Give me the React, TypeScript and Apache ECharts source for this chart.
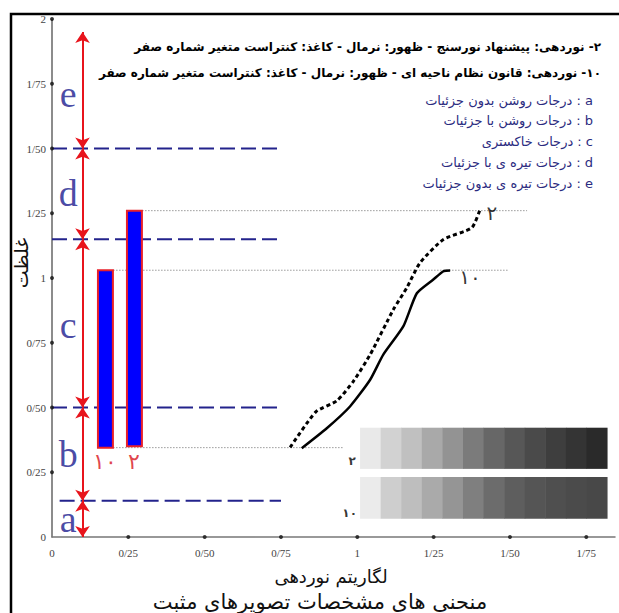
import React, { useEffect, useRef } from "react";
import * as echarts from "echarts";

// ---- axis ticks ----
const xTicks = [0, 0.25, 0.5, 0.75, 1, 1.25, 1.5, 1.75];
const xTickLabels = ["0", "0/25", "0/50", "0/75", "1", "1/25", "1/50", "1/75"];
const yTicks = [0, 0.25, 0.5, 0.75, 1, 1.25, 1.5, 1.75, 2];
const yTickLabels = ["0", "0/25", "0/50", "0/75", "1", "1/25", "1/50", "1/75", "2"];

// ---- zones (a..e) ----
const zoneBounds = [0, 0.14, 0.5, 1.15, 1.5, 1.95];
const zoneLetters = ["a", "b", "c", "d", "e"];
const zoneLetterY = [0.07, 0.32, 0.82, 1.33, 1.71];
const zoneLetterX = 0.053;
const arrowX = 0.1;
const dashedLevels = [0.14, 0.5, 1.15, 1.5];
const dashedStart = [0.025, 0, 0, 0];
const dashedEnd = [0.75, 0.75, 0.75, 0.75];

// ---- bars ----
const barNames = ["۱۰", "۲"];
const barX = [0.175, 0.27];
const barLow = [0.345, 0.35];
const barHigh = [1.03, 1.26];
const barLabelY = [0.29, 0.29];

// ---- reference dotted lines ----
const refY = [1.26, 1.03, 0.345];
const refStart = [0.295, 0.2, 0.2];
const refEnd = [1.556, 1.497, 0.953];

// ---- curves ----
const curve2 = [
  [0.78, 0.346], [0.864, 0.483], [0.933, 0.526], [0.987, 0.601], [1.042, 0.704],
  [1.118, 0.878], [1.162, 0.962], [1.205, 1.058], [1.282, 1.149], [1.375, 1.194], [1.402, 1.265],
];
const curve10 = [
  [0.818, 0.343], [0.9, 0.42], [0.976, 0.504], [1.042, 0.607], [1.085, 0.704],
  [1.151, 0.814], [1.195, 0.941], [1.249, 0.994], [1.282, 1.026], [1.304, 1.029],
];
const curveLabels = ["۲", "۱۰"];
const curveLabelPos = [[1.441, 1.251], [1.369, 1.004]];

// ---- grey step strips ----
const strip2Grays = ["#e9e9e9", "#d2d2d2", "#c0c0c0", "#a9a9a9", "#939393", "#7b7b7b", "#676767", "#575757", "#4a4a4a", "#3e3e3e", "#343434", "#2a2a2a"];
const strip10Grays = ["#ebebeb", "#cecece", "#bebebe", "#aaaaaa", "#959595", "#7f7f7f", "#6c6c6c", "#5e5e5e", "#555555", "#4f4f4f", "#4b4b4b", "#484848"];
const stripXRange = [1.009, 1.818];
const strip2YRange = [0.263, 0.422];
const strip10YRange = [0.07, 0.232];
const stripLabels = ["۲", "۱۰"];
const stripLabelPos = [[0.983, 0.293], [0.975, 0.093]];

// ---- texts ----
const headLines = [
  "۲- نوردهی: پیشنهاد نورسنج - ظهور: نرمال - کاغذ: کنتراست متغیر شماره صفر",
  "۱۰- نوردهی: قانون نظام ناحیه ای - ظهور: نرمال - کاغذ: کنتراست متغیر شماره صفر",
];
const legendLines = [
  "a : درجات روشن بدون جزئیات",
  "b : درجات روشن با جزئیات",
  "c : درجات خاکستری",
  "d : درجات تیره ی با جزئیات",
  "e : درجات تیره ی بدون جزئیات",
];
const xName = "لگاریتم نوردهی";
const yName = "غلظت";
const titleText = "منحنی های مشخصات تصویرهای مثبت";

const FA = "'DejaVu Sans', sans-serif";
const SERIF = "'Liberation Serif', 'DejaVu Serif', serif";
const RLE = "\u202B";
const PDF = "\u202C";

function tickLabel(v: number, ticks: number[], labels: string[]) {
  const i = ticks.findIndex((t) => Math.abs(t - v) < 1e-6);
  return i >= 0 ? labels[i] : "";
}

function stripCells(grays: string[], yr: number[]) {
  const n = grays.length;
  const w = (stripXRange[1] - stripXRange[0]) / n;
  return grays.map((g, i) => [stripXRange[0] + i * w, stripXRange[0] + (i + 1) * w, yr[0], yr[1]]);
}

export default function App() {
  const ref = useRef<HTMLDivElement>(null);
  useEffect(() => {
    if (!ref.current) return;
    const chart = echarts.init(ref.current, null, { renderer: "svg" });
    const series: any[] = [];

    dashedLevels.forEach((lv, i) => {
      series.push({
        type: "line",
        data: [[dashedStart[i], lv], [dashedEnd[i], lv]],
        symbol: "none",
        lineStyle: { color: "#23238c", width: 2, type: [15, 6] },
        z: 3,
      });
    });

    series.push({
      type: "lines",
      coordinateSystem: "cartesian2d",
      symbol: ["arrow", "arrow"],
      symbolSize: 11,
      lineStyle: { color: "#e8141c", width: 2, opacity: 1 },
      data: zoneLetters.map((_, i) => ({
        coords: [[arrowX, zoneBounds[i]], [arrowX, zoneBounds[i + 1]]],
      })),
      z: 4,
    });

    series.push({
      type: "scatter",
      symbolSize: 0,
      data: zoneLetters.map((l, i) => ({ name: l, value: [zoneLetterX, zoneLetterY[i]] })),
      label: {
        show: true,
        position: "inside",
        formatter: "{b}",
        color: "#1a1a8e",
        fontFamily: SERIF,
        fontSize: 38,
      },
      z: 5,
    });

    refY.forEach((y, i) => {
      series.push({
        type: "line",
        data: [[refStart[i], y], [refEnd[i], y]],
        symbol: "none",
        lineStyle: { color: "#9a9a9a", width: 1, type: [1.5, 1.5] },
        z: 2,
      });
    });

    series.push({
      type: "custom",
      data: barX.map((x, i) => [x, barLow[i], barHigh[i]]),
      renderItem: (params: any, api: any) => {
        const x = api.value(0);
        const p0 = api.coord([x - 0.0245, api.value(2)]);
        const p1 = api.coord([x + 0.0245, api.value(1)]);
        return {
          type: "rect",
          shape: { x: p0[0], y: p0[1], width: p1[0] - p0[0], height: p1[1] - p0[1] },
          style: { fill: "#0000ff", stroke: "#e8202a", lineWidth: 2 },
        };
      },
      z: 4,
    });

    series.push({
      type: "scatter",
      symbolSize: 0,
      data: barNames.map((n, i) => ({ name: n, value: [barX[i], barLabelY[i]] })),
      label: { show: true, position: "inside", formatter: "{b}", color: "#d8141c", fontFamily: SERIF, fontSize: 22 },
      z: 5,
    });

    const stripRender = (grays: string[]) => (params: any, api: any) => {
      const p0 = api.coord([api.value(0), api.value(3)]);
      const p1 = api.coord([api.value(1), api.value(2)]);
      return {
        type: "rect",
        shape: { x: p0[0], y: p0[1], width: p1[0] - p0[0] + 0.5, height: p1[1] - p0[1] },
        style: { fill: grays[params.dataIndex] },
      };
    };
    series.push({ type: "custom", data: stripCells(strip2Grays, strip2YRange), renderItem: stripRender(strip2Grays), z: 2 });
    series.push({ type: "custom", data: stripCells(strip10Grays, strip10YRange), renderItem: stripRender(strip10Grays), z: 2 });

    series.push({
      type: "line",
      data: curve2,
      symbol: "none",
      smooth: 0.2,
      lineStyle: { color: "#000", width: 3, type: [4, 3] },
      z: 6,
    });
    series.push({
      type: "line",
      data: curve10,
      symbol: "none",
      smooth: 0.2,
      lineStyle: { color: "#000", width: 2.5 },
      z: 6,
    });

    series.push({
      type: "scatter",
      symbolSize: 0,
      data: curveLabels.map((n, i) => ({ name: n, value: curveLabelPos[i] })),
      label: { show: true, position: "inside", formatter: "{b}", color: "#000", fontFamily: FA, fontSize: 20 },
      z: 6,
    });
    series.push({
      type: "scatter",
      symbolSize: 0,
      data: stripLabels.map((n, i) => ({ name: n, value: stripLabelPos[i] })),
      label: { show: true, position: "inside", formatter: "{b}", color: "#000", fontFamily: FA, fontSize: 12, fontWeight: "bold" },
      z: 6,
    });

    // tick dots
    series.push({
      type: "scatter",
      symbol: "circle",
      symbolSize: 4,
      clip: false,
      itemStyle: { color: "#111" },
      data: [
        ...xTicks.filter((t) => t > 0).map((t) => [t, 0]),
        ...yTicks.filter((t) => t > 0).map((t) => [0, t]),
      ],
      z: 7,
    });

    const txt = (text: string, x: number, y: number, font: string, fill: string, align = "center") => ({
      type: "text",
      x,
      y,
      style: { text, align, textAlign: align, verticalAlign: "middle", textVerticalAlign: "middle", font, fill },
      z: 10,
    });

    const option: any = {
      animation: false,
      backgroundColor: "#fff",
      grid: { left: 52, top: 19, width: 563, height: 518 },
      xAxis: {
        type: "value",
        min: 0,
        max: 1.844,
        interval: 0.25,
        axisLine: { show: true, lineStyle: { color: "#777", width: 1.5 } },
        axisTick: { show: false },
        splitLine: { show: false },
        axisLabel: {
          formatter: (v: number) => tickLabel(v, xTicks, xTickLabels),
          color: "#444",
          fontFamily: SERIF,
          fontSize: 11,
          margin: 10,
          showMaxLabel: false,
        },
      },
      yAxis: {
        type: "value",
        min: 0,
        max: 2,
        interval: 0.25,
        axisLine: { show: true, lineStyle: { color: "#666", width: 1.5 } },
        axisTick: { show: false },
        splitLine: { show: false },
        axisLabel: {
          formatter: (v: number) => tickLabel(v, yTicks, yTickLabels),
          color: "#444",
          fontFamily: SERIF,
          fontSize: 11,
          margin: 6,
        },
      },
      graphic: [
        {
          type: "polyline",
          shape: { points: [[11, 620], [11, 14], [625, 14]] },
          style: { stroke: "#000", lineWidth: 2.5, fill: "none" },
          z: 10,
        },
        ...headLines.map((t, i) => txt(RLE + t + PDF, 601, 47 + i * 26, `bold 12px ${FA}`, "#000", "right")),
        ...legendLines.map((t, i) => txt(RLE + t + PDF, 593, 100 + i * 20.8, `13px ${FA}`, "#2b2b80", "right")),
        txt(xName, 331, 576, `18px ${FA}`, "#111"),
        txt(titleText, 320, 602, `21px ${FA}`, "#111"),
        {
          type: "text",
          x: 21,
          y: 263,
          rotation: Math.PI / 2,
          style: { text: yName, align: "center", textAlign: "center", verticalAlign: "middle", textVerticalAlign: "middle", font: `19px ${FA}`, fill: "#111" },
          z: 10,
        },
      ],
      series,
    };
    chart.setOption(option);
    return () => chart.dispose();
  }, []);

  return (
    <div
      ref={ref}
      style={{ position: "fixed", left: 0, top: 0, width: 619, height: 613, background: "#fff" }}
    />
  );
}
